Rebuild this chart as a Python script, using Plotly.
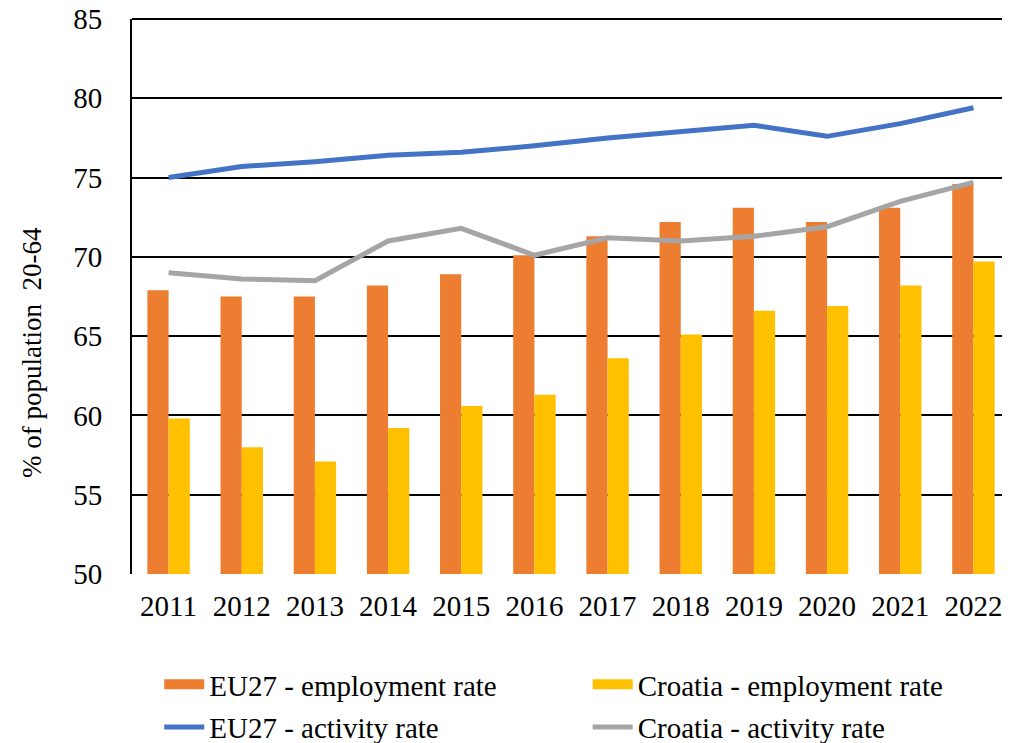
import plotly.graph_objects as go

years = ["2011", "2012", "2013", "2014", "2015", "2016",
         "2017", "2018", "2019", "2020", "2021", "2022"]

eu_employment = [67.9, 67.5, 67.5, 68.2, 68.9, 70.1, 71.3, 72.2, 73.1, 72.2, 73.1, 74.6]
hr_employment = [59.8, 58.0, 57.1, 59.2, 60.6, 61.3, 63.6, 65.1, 66.6, 66.9, 68.2, 69.7]
eu_activity = [75.0, 75.7, 76.0, 76.4, 76.6, 77.0, 77.5, 77.9, 78.3, 77.6, 78.4, 79.4]
hr_activity = [69.0, 68.6, 68.5, 71.0, 71.8, 70.1, 71.2, 71.0, 71.3, 71.9, 73.5, 74.7]

FONT = "Liberation Serif"
ORANGE, YELLOW, BLUE, GREY = "#ED7D31", "#FFC000", "#4472C4", "#A5A5A5"

fig = go.Figure()

fig.add_trace(go.Bar(x=years, y=eu_employment, name="EU27 - employment rate",
                     marker=dict(color=ORANGE, line=dict(width=0)), showlegend=False))
fig.add_trace(go.Bar(x=years, y=hr_employment, name="Croatia - employment rate",
                     marker=dict(color=YELLOW, line=dict(width=0)), showlegend=False))
fig.add_trace(go.Scatter(x=years, y=eu_activity, name="EU27 - activity rate", mode="lines",
                         line=dict(color=BLUE, width=5), legend="legend3"))
fig.add_trace(go.Scatter(x=years, y=hr_activity, name="Croatia - activity rate", mode="lines",
                         line=dict(color=GREY, width=5), legend="legend4"))

# legend entries for the bars, drawn as thick swatches like the original
fig.add_trace(go.Scatter(x=[None], y=[None], mode="lines", name="EU27 - employment rate",
                         line=dict(color=ORANGE, width=16), legend="legend"))
fig.add_trace(go.Scatter(x=[None], y=[None], mode="lines", name="Croatia - employment rate",
                         line=dict(color=YELLOW, width=16), legend="legend2"))

legend_common = dict(orientation="h", xanchor="left", yanchor="middle",
                     font=dict(family=FONT, size=29, color="black"),
                     bgcolor="rgba(0,0,0,0)", itemwidth=40)

col1, col2 = 0.031, 0.519
row1, row2 = -0.199, -0.276

# page has an 8px body margin, so the figure is drawn 8px smaller
fig.update_layout(
    width=1002, height=735,
    margin=dict(l=124, r=0, t=11, b=169, autoexpand=False),
    plot_bgcolor="white", paper_bgcolor="white",
    font=dict(family=FONT, size=29, color="black"),
    barmode="group", bargap=0.42, bargroupgap=0,
    legend=dict(x=col1, y=row1, **legend_common),
    legend2=dict(x=col2, y=row1, **legend_common),
    legend3=dict(x=col1, y=row2, **legend_common),
    legend4=dict(x=col2, y=row2, **legend_common),
    xaxis=dict(showgrid=False, showline=False, ticks="",
               tickfont=dict(family=FONT, size=29), ticklabelstandoff=12),
    yaxis=dict(range=[50, 85], dtick=5, showgrid=True, gridcolor="black", gridwidth=1.5,
               showline=True, linecolor="black", linewidth=2, zeroline=False, ticks="",
               tickfont=dict(family=FONT, size=29), ticklabelstandoff=22,
               ticklabeloverflow="allow"),
)

fig.add_annotation(text="% of population  20-64", textangle=-90, showarrow=False,
                   xref="paper", yref="paper", x=-0.114, y=0.40,
                   xanchor="center", yanchor="middle",
                   font=dict(family=FONT, size=27, color="black"))

fig.add_shape(type="line", xref="paper", yref="paper", x0=0, x1=1, y0=1, y1=1,
              line=dict(color="black", width=2))

fig.write_html("out.html")
